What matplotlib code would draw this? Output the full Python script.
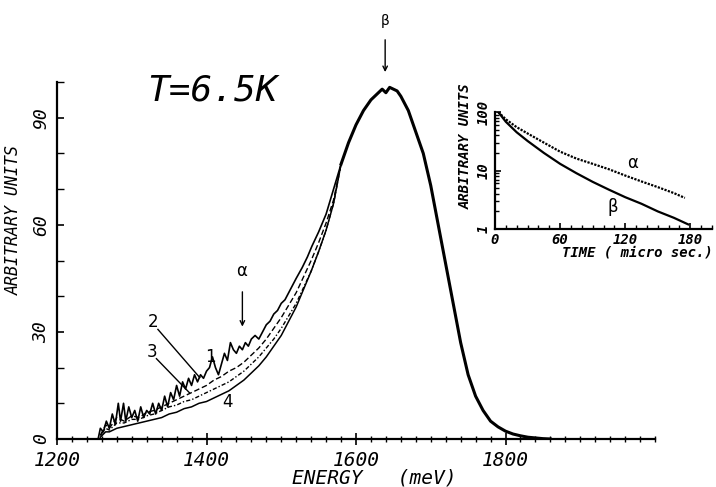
import numpy as np
import matplotlib
matplotlib.use("Agg")
import matplotlib.pyplot as plt
from matplotlib.ticker import MultipleLocator, FixedLocator, NullFormatter, LogLocator

# ---- main spectrum: curve 1 (noisy, top) ----
energy_1 = [1255, 1258, 1262, 1266, 1270, 1274, 1278, 1282, 1285, 1289, 1292, 1296,
            1300, 1304, 1308, 1312, 1316, 1320, 1324, 1328, 1332, 1336, 1340, 1344,
            1348, 1352, 1356, 1360, 1364, 1368, 1372, 1376, 1380, 1384, 1388, 1392,
            1396, 1400, 1404, 1408, 1412, 1416, 1420, 1424, 1428, 1432, 1436, 1440,
            1444, 1448, 1452, 1456, 1460, 1465, 1470, 1475, 1480, 1485, 1490, 1495,
            1500, 1505, 1510, 1515, 1520, 1528, 1535, 1541, 1550, 1560, 1570, 1580]
curve_1 = [0, 3, 2, 5, 3, 7, 4, 10, 5, 10, 5, 9,
           6, 8, 5, 9, 6, 8, 7, 10, 7, 10, 8, 12,
           9, 13, 11, 15, 12, 16, 14, 17, 15, 18, 16, 18,
           17, 19, 20, 23, 20, 18, 21, 24, 22, 27, 25, 24,
           26, 25, 27, 26, 28, 29, 28, 30, 32, 33, 35, 36,
           38, 39, 41, 43, 45, 48, 51, 54, 58, 63, 70, 77]

# ---- curves 2, 3, 4 (low energy side) ----
energy_low = [1258, 1265, 1270, 1280, 1290, 1300, 1310, 1320, 1330, 1340, 1350, 1360,
              1370, 1380, 1390, 1400, 1410, 1420, 1430, 1440, 1450, 1460, 1470, 1480,
              1490, 1500, 1510, 1520, 1530, 1540, 1550, 1560, 1570, 1580]
curve_2 = [1, 4, 3, 6, 5, 6.5, 6, 7.5, 8, 9, 10, 11,
           12, 13, 14, 15, 16.5, 17.5, 19, 20, 21.5, 23.5, 25.5, 28,
           31, 34, 37.5, 41, 45.5, 50, 55, 60.5, 67, 77]
curve_3 = [1, 3, 2.5, 4.5, 4.5, 5.5, 5.5, 6.5, 7, 8, 9, 9.5,
           10.5, 11, 12, 13, 14, 15, 16, 17.5, 19, 21, 23, 25.5,
           28, 31, 34.5, 38, 42.5, 47, 52.5, 58.5, 66, 77]
curve_4 = [0.5, 2, 2, 3, 3.5, 4, 4.5, 5, 5.5, 6, 7, 7.5,
           8.5, 9, 10, 10.5, 11.5, 12.5, 13.5, 15, 16.5, 18.5, 20.5, 23,
           26, 29, 33, 37, 42, 47, 52.5, 58.5, 66, 77]

# ---- common peak (all curves coincide) ----
energy_peak = [1580, 1590, 1600, 1610, 1620, 1630, 1635, 1640, 1645, 1650, 1655, 1660,
               1670, 1680, 1690, 1700, 1710, 1720, 1730, 1740, 1750, 1760, 1770, 1780,
               1790, 1800, 1810, 1820, 1830, 1840, 1850, 1860]
peak = [77, 83, 88, 92, 95, 97, 98, 97, 98.5, 98, 97.5, 96,
        92, 86, 80, 71, 60, 49, 38, 27, 18, 12, 8, 5,
        3.4, 2.2, 1.4, 0.9, 0.5, 0.3, 0.1, 0]

# ---- inset: decay curves ----
time_alpha = [3, 10, 20, 30, 45, 60, 75, 90, 105, 120, 135, 150, 165, 175]
decay_alpha = [100, 75, 55, 43, 30, 21, 16, 13, 10.5, 8.2, 6.5, 5.2, 4.1, 3.4]
time_beta = [3, 10, 20, 30, 45, 60, 75, 90, 105, 120, 135, 150, 165, 178]
decay_beta = [100, 68, 45, 32, 20, 13, 9, 6.4, 4.7, 3.5, 2.7, 2.0, 1.55, 1.2]

x_ticks = [1200, 1400, 1600, 1800]
y_ticks = [0, 30, 60, 90]
inset_x_ticks = [0, 60, 120, 180]
inset_y_ticks = [1, 10, 100]

MONO = "DejaVu Sans Mono"
W, H = 716, 487


def fx(px):
    return px / W


def fy(py):
    return 1 - py / H


def draw_main(fig):
    ax = fig.add_axes([fx(57), fy(439), fx(655 - 57), (439 - 82) / H])

    ax.plot(energy_1, curve_1, color="black", lw=1.2)
    ax.plot(energy_low, curve_2, color="black", lw=1.0, ls=(0, (4, 2)))
    ax.plot(energy_low, curve_3, color="black", lw=1.0, ls=(0, (3, 1.5, 1, 1.5)))
    ax.plot(energy_low, curve_4, color="black", lw=1.1)
    ax.plot(energy_peak, peak, color="black", lw=2.2)

    ax.set_xlim(1200, 2000)
    ax.set_ylim(0, 100)
    for s in ("top", "right"):
        ax.spines[s].set_visible(False)
    for s in ("left", "bottom"):
        ax.spines[s].set_linewidth(1.6)

    ax.xaxis.set_major_locator(FixedLocator(x_ticks))
    ax.xaxis.set_minor_locator(MultipleLocator(20))
    ax.yaxis.set_major_locator(FixedLocator(y_ticks))
    ax.yaxis.set_minor_locator(MultipleLocator(10))
    ax.tick_params(axis="x", which="major", direction="inout", length=9, width=1.2, pad=4)
    ax.tick_params(axis="x", which="minor", direction="inout", length=4, width=1.0)
    ax.tick_params(axis="y", which="major", direction="in", length=5, width=1.2, pad=5)
    ax.tick_params(axis="y", which="minor", direction="in", length=5, width=1.0)

    ax.set_xticklabels([str(t) for t in x_ticks], family=MONO, style="italic", fontsize=14)
    ax.set_yticklabels([str(t) for t in y_ticks], family=MONO, style="italic", fontsize=13,
                       rotation=90, va="center")

    # labels
    ax.text(1320, 97.5, "T=6.5K", family=MONO, style="italic", fontsize=26, va="center")
    ax.text(1328, 32.7, "2", fontsize=12, ha="center", va="center")
    ax.plot([1335, 1391], [30.7, 17.2], color="black", lw=1.0)
    ax.text(1327, 24.5, "3", fontsize=12, ha="center", va="center")
    ax.plot([1333, 1377], [22.5, 13], color="black", lw=1.0)
    ax.text(1405, 23, "1", fontsize=12, ha="center", va="center")
    ax.text(1428, 10.4, "4", fontsize=12, ha="center", va="center")

    ax.text(1447, 47, "α", fontsize=12, ha="center", va="center")
    ax.annotate("", xy=(1448, 30.7), xytext=(1448, 42),
                arrowprops=dict(arrowstyle="->", color="black", lw=1.0, mutation_scale=8))
    ax.text(1639, 117, "β", fontsize=10, ha="center", va="center", clip_on=False)
    ax.annotate("", xy=(1639, 102), xytext=(1639, 112.6), annotation_clip=False,
                arrowprops=dict(arrowstyle="->", color="black", lw=1.0, mutation_scale=8))

    fig.text(fx(374), fy(478), "ENERGY   (meV)", family=MONO, style="italic",
             fontsize=14, ha="center", va="center")
    fig.text(fx(14), fy(220), "ARBITRARY UNITS", family=MONO, style="italic",
             fontsize=12, rotation=90, ha="center", va="center")
    return ax


def draw_inset(fig):
    ax = fig.add_axes([fx(495), fy(229), fx(712 - 495), (229 - 112) / H])
    ax.plot(time_alpha, decay_alpha, color="black", lw=1.6, ls=(0, (1, 0.6)))
    ax.plot(time_beta, decay_beta, color="black", lw=1.6)
    ax.set_yscale("log")
    ax.set_xlim(0, 200)
    ax.set_ylim(1, 100)
    ax.patch.set_alpha(0)
    for s in ("top", "right"):
        ax.spines[s].set_visible(False)
    for s in ("left", "bottom"):
        ax.spines[s].set_linewidth(1.6)

    ax.xaxis.set_major_locator(FixedLocator(inset_x_ticks))
    ax.xaxis.set_minor_locator(MultipleLocator(10))
    ax.yaxis.set_major_locator(FixedLocator(inset_y_ticks))
    ax.yaxis.set_minor_locator(LogLocator(base=10, subs=np.arange(2, 10)))
    ax.yaxis.set_minor_formatter(NullFormatter())
    ax.tick_params(which="major", direction="in", length=4, width=1.2, pad=3)
    ax.tick_params(which="minor", direction="in", length=3, width=1.0)

    ax.set_xticklabels([str(t) for t in inset_x_ticks], family=MONO, style="italic",
                       fontsize=10, fontweight="bold")
    ax.set_yticklabels([str(t) for t in inset_y_ticks], family=MONO, style="italic",
                       fontsize=10, fontweight="bold", rotation=90, va="center")

    ax.text(127, 13.4, "α", fontsize=12, ha="center", va="center")
    ax.text(109, 2.4, "β", fontsize=12, ha="center", va="center")

    fig.text(fx(637), fy(253), "TIME ( micro sec.)", family=MONO, style="italic",
             fontsize=10, fontweight="bold", ha="center", va="center")
    fig.text(fx(466), fy(146), "ARBITRARY UNITS", family=MONO, style="italic",
             fontsize=10, fontweight="bold", rotation=90, ha="center", va="center")
    return ax


def main():
    fig = plt.figure(figsize=(7.16, 4.87), dpi=100)
    fig.patch.set_facecolor("white")
    draw_main(fig)
    draw_inset(fig)
    fig.savefig("out.png", dpi=100, facecolor="white")
    plt.close(fig)


if __name__ == "__main__":
    main()
